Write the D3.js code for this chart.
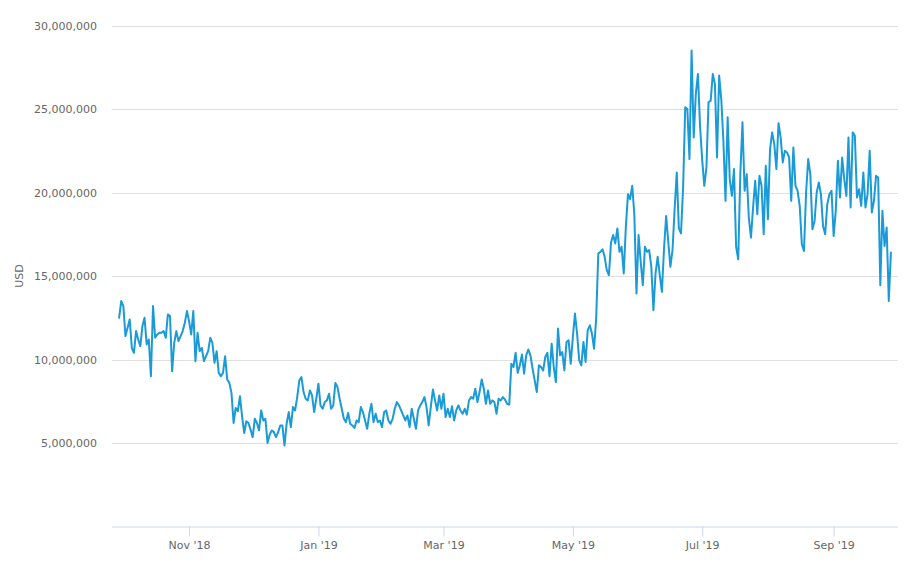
<!DOCTYPE html>
<html>
<head>
<meta charset="utf-8">
<script src="https://cdn.jsdelivr.net/npm/d3@7/dist/d3.min.js"></script>
<style>
  html, body { margin: 0; padding: 0; background: #ffffff; }
  svg { display: block; }
  .tick text { font-family: "DejaVu Sans", Verdana, sans-serif; }
</style>
</head>
<body>
<svg id="chart" width="909" height="581"></svg>
<script>
// ---- Data (daily values in millions of USD, starting 2018-09-29) ----
const startDate = "2018-09-29";
const valuesA = [12.5, 13.5, 13.2, 11.4, 11.9, 12.4, 10.7, 10.4, 11.7, 11.2, 10.8, 12.0, 12.5, 10.9, 11.2, 9.0, 13.2, 11.3, 11.5, 11.6, 11.6, 11.7, 11.3, 12.7, 12.6, 9.3, 11.0, 11.7, 11.1, 11.4, 11.7, 12.2, 12.9, 12.3, 11.5, 12.9, 9.9, 11.6, 10.5, 10.7, 9.9, 10.2, 10.5, 11.3, 11.0, 9.8, 10.5, 9.2, 9.0, 9.2, 10.2, 8.8, 8.6];
const valuesB = [8.0, 6.2, 7.1, 6.9, 7.8, 6.6, 5.6, 6.3, 6.2, 5.8, 5.35, 6.45, 6.2, 5.75, 6.95, 6.35, 6.45, 5.0, 5.5, 5.75, 5.65, 5.35, 5.65, 6.05, 6.05, 4.85, 6.15, 6.85, 5.95, 7.15, 6.95, 7.75, 8.75, 8.95, 8.05, 7.65, 7.55, 8.15, 7.85, 6.85, 7.65, 8.55, 7.25, 7.05, 7.45, 7.55, 7.95, 7.05];
const valuesC = [7.25, 8.6, 8.35, 7.65, 7.05, 6.45, 6.25, 6.8, 6.15, 6.05, 5.9, 6.35, 6.25, 7.15, 6.85, 6.35, 5.85, 6.75, 7.35, 6.25, 6.75, 6.25, 6.35, 5.95, 6.85, 6.95, 6.35, 6.15, 6.45, 7.05, 7.45, 7.25, 6.95, 6.65, 6.35, 6.65, 5.95, 7.05, 6.45, 5.85, 6.95, 7.25, 7.45, 7.75, 7.15, 6.05, 7.15, 8.2, 7.55, 6.95, 7.85, 7.05, 7.95, 6.55, 7.05, 6.55];
const valuesD = [7.2, 6.35, 6.95, 7.25, 6.95, 6.75, 7.05, 6.7, 7.55, 7.75, 7.65, 8.25, 7.45, 8.05, 8.8, 8.25, 7.35, 8.15, 7.35, 7.55, 7.45, 6.75, 7.65, 7.55, 7.75, 7.6, 7.35, 7.3, 9.75, 9.55, 10.4, 9.2, 9.65, 10.3, 9.15, 10.25, 10.6, 10.25, 9.45, 8.75, 8.05, 9.65, 9.55, 9.35, 10.15, 10.4, 9.0, 10.95, 9.55, 8.65, 11.85, 10.25, 10.45, 9.35, 11.05, 11.15, 9.75];
const valuesE = [11.35, 12.75, 11.55, 9.95, 9.65, 11.05, 9.85, 11.75, 12.05, 11.55, 10.65, 12.45, 16.35, 16.45, 16.6, 16.15, 15.35, 15.05, 17.0, 17.45, 16.95, 17.85, 16.45, 16.75, 15.15, 17.95, 19.9, 19.6, 20.4, 18.7, 13.95, 17.45, 15.85, 14.45, 16.75, 16.45, 16.55, 15.55, 12.95, 15.15, 16.15, 15.05, 14.05, 16.65, 18.6, 17.05, 15.55, 16.55, 19.0, 21.2];
const valuesF = [17.85, 17.55, 20.3, 25.1, 25.0, 22.0, 28.5, 23.3, 25.9, 27.1, 23.95, 21.95, 20.4, 21.5, 25.4, 25.5, 27.1, 26.5, 22.1, 27.0, 25.6, 23.1, 19.5, 24.5, 20.8, 19.8, 21.4, 16.75, 16.0, 21.2, 24.2, 20.1, 21.1, 18.5, 17.3, 19.1, 20.7, 18.7, 21.0];
const valuesG = [20.4, 17.5, 21.6, 18.4, 22.6, 23.6, 22.9, 21.4, 24.15, 23.3, 21.8, 22.5, 22.4, 22.1, 19.5, 22.7, 20.4, 20.1, 19.2, 16.9, 16.5, 20.0, 22.0, 21.1, 17.8, 18.3, 20.0, 20.6, 19.9, 18.0, 17.5, 19.3, 19.9, 20.1, 17.4, 18.9, 21.9, 19.7, 22.1, 20.8, 19.8, 23.3, 19.1, 23.6, 23.4, 19.7, 20.2, 19.2, 21.2, 19.1, 19.9, 22.5, 18.8, 19.5, 21.0, 20.9, 14.45, 18.9, 16.8, 17.9, 13.5, 16.4];
const yTicks = [5000000, 10000000, 15000000, 20000000, 25000000, 30000000];
const xTickDates = ["2018-11-01", "2019-01-01", "2019-03-01", "2019-05-01", "2019-07-01", "2019-09-01"];
const yTitle = "USD";

// ---- Build series ----
const allValues = [].concat(valuesA, valuesB, valuesC, valuesD, valuesE, valuesF, valuesG);
const parse = d3.utcParse("%Y-%m-%d");
const t0 = parse(startDate);
const data = allValues.map((v, i) => ({ date: d3.utcDay.offset(t0, i), value: v * 1e6 }));

// ---- Layout ----
const svg = d3.select("#chart");
const plotLeft = 112, plotRight = 898, plotTop = 25.5, plotBottom = 526.5;

const first = data[0].date, last = data[data.length - 1].date;
const padMs = 3.35 * 864e5;
const x = d3.scaleUtc()
  .domain([new Date(+first - padMs), new Date(+last + padMs)])
  .range([plotLeft, plotRight]);
const y = d3.scaleLinear().domain([0, 30000000]).range([plotBottom, plotTop]);

// Gridlines
svg.append("g")
  .selectAll("line")
  .data(yTicks)
  .join("line")
  .attr("x1", plotLeft).attr("x2", plotRight)
  .attr("y1", d => Math.round(y(d)) + 0.5).attr("y2", d => Math.round(y(d)) + 0.5)
  .attr("stroke", "#e0e0e0").attr("stroke-width", 1);

// Y axis labels
const yAxis = d3.axisLeft(y).tickValues(yTicks).tickSize(0).tickPadding(0)
  .tickFormat(d3.format(","));
const gy = svg.append("g").attr("transform", `translate(97,0)`).call(yAxis);
gy.select(".domain").remove();
gy.selectAll("text").attr("fill", "#666666").attr("font-size", "11px")
  .attr("font-family", "DejaVu Sans, Verdana, sans-serif");

// Y axis title
svg.append("text")
  .attr("transform", `translate(23,${(plotTop + plotBottom) / 2}) rotate(-90)`)
  .attr("text-anchor", "middle")
  .attr("fill", "#666666")
  .attr("font-size", "11px")
  .attr("font-family", "DejaVu Sans, Verdana, sans-serif")
  .text(yTitle);

// X axis
const xAxis = d3.axisBottom(x)
  .tickValues(xTickDates.map(parse))
  .tickSize(10).tickPadding(5)
  .tickFormat(d3.utcFormat("%b '%y"));
const gx = svg.append("g").attr("transform", `translate(0,${plotBottom})`).call(xAxis);
gx.select(".domain").attr("stroke", "#ccd6eb").attr("d", `M${plotLeft},0.5H${plotRight}`);
gx.selectAll(".tick line").attr("stroke", "#ccd6eb");
gx.selectAll("text").attr("fill", "#666666").attr("font-size", "11px")
  .attr("font-family", "DejaVu Sans, Verdana, sans-serif");

// Line
const line = d3.line().x(d => x(d.date)).y(d => y(d.value));
svg.append("path")
  .datum(data)
  .attr("fill", "none")
  .attr("stroke", "#1a9ad6")
  .attr("stroke-width", 2)
  .attr("stroke-linejoin", "round")
  .attr("stroke-linecap", "round")
  .attr("d", line);
</script>
</body>
</html>
